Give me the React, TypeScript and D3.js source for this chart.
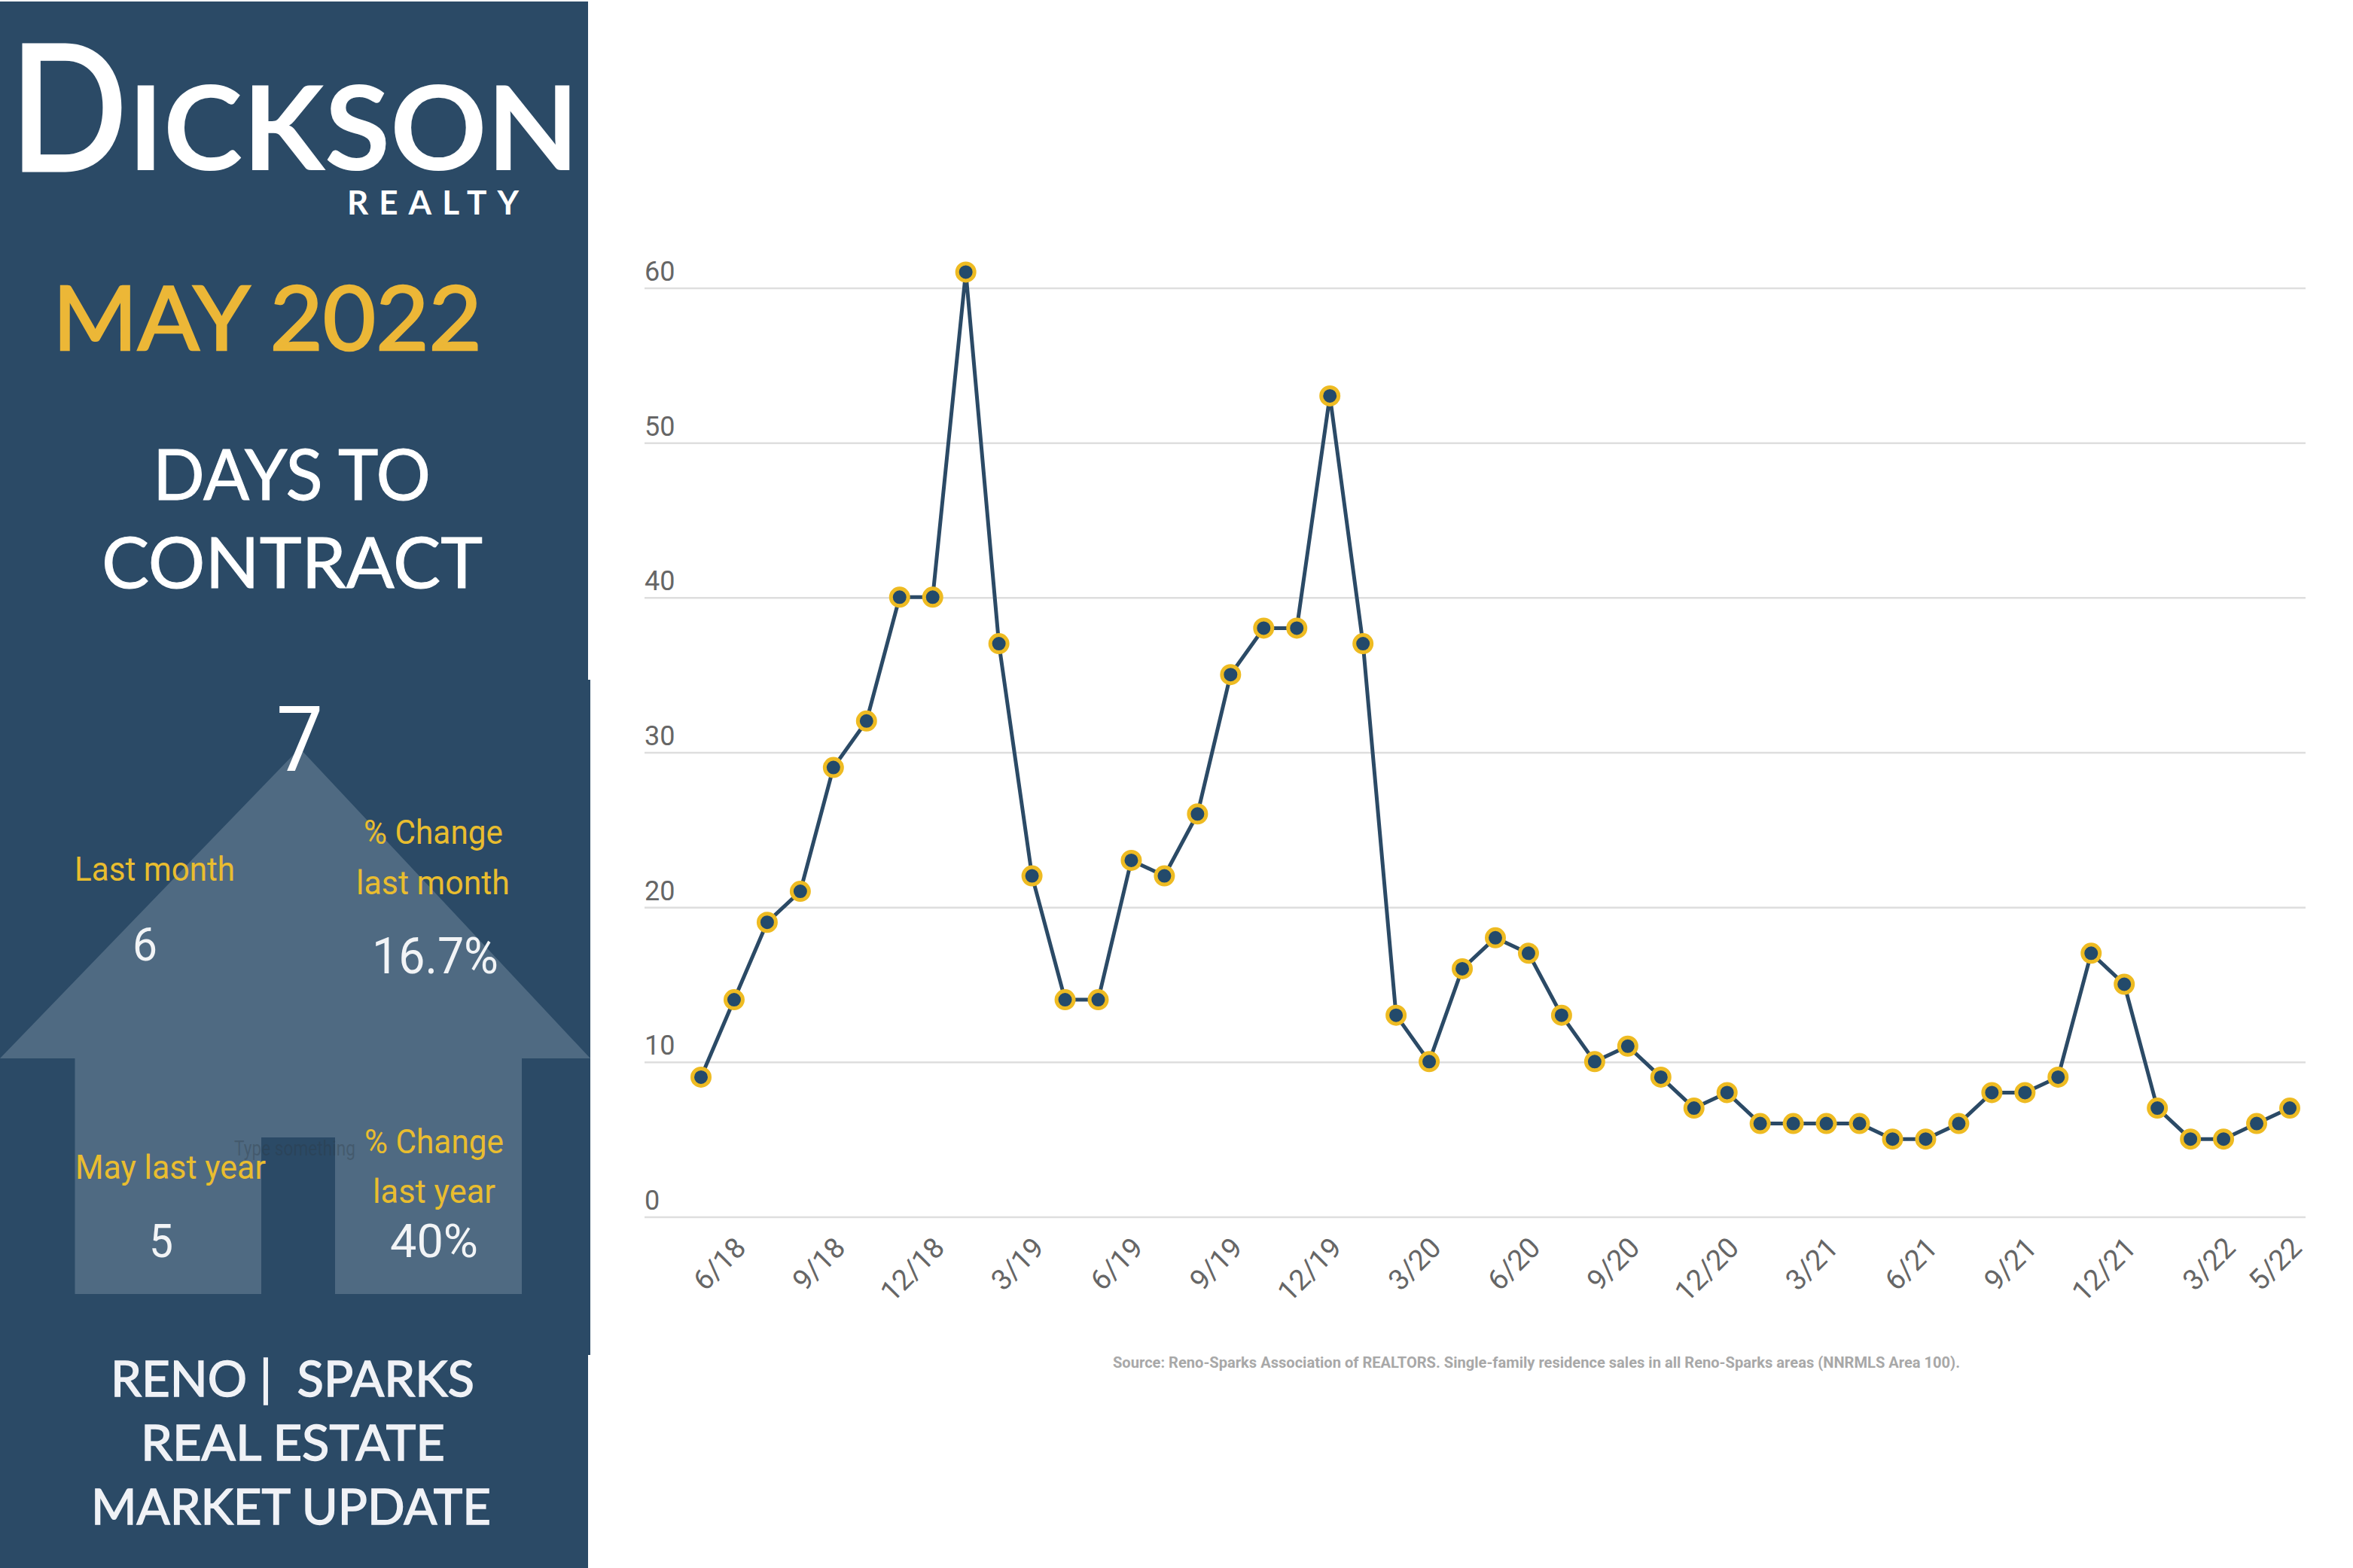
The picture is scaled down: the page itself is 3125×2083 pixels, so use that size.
import React from "react";
import * as d3 from "d3";

const months = ["5/18","6/18","7/18","8/18","9/18","10/18","11/18","12/18","1/19","2/19","3/19","4/19","5/19","6/19","7/19","8/19","9/19","10/19","11/19","12/19","1/20","2/20","3/20","4/20","5/20","6/20","7/20","8/20","9/20","10/20","11/20","12/20","1/21","2/21","3/21","4/21","5/21","6/21","7/21","8/21","9/21","10/21","11/21","12/21","1/22","2/22","3/22","4/22","5/22"];
const daysToContract = [9,14,19,21,29,32,40,40,61,37,22,14,14,23,22,26,35,38,38,53,37,13,10,16,18,17,13,10,11,9,7,8,6,6,6,6,5,5,6,8,8,9,17,15,7,5,5,6,7];
const xTickLabels = ["6/18","9/18","12/18","3/19","6/19","9/19","12/19","3/20","6/20","9/20","12/20","3/21","6/21","9/21","12/21","3/22","5/22"];
const yTicks = [0,10,20,30,40,50,60];

const NAVY = "#2b4a66";
const GOLD = "#ecb737";
const LABEL_GOLD = "#e9bd2f";
const SANS = "Roboto, sans-serif";
const GEO = "Lato, sans-serif";

export default function App() {
  const x = d3.scalePoint<string>().domain(months).range([931, 3041]);
  const y = d3.scaleLinear().domain([0, 60]).range([1617, 383]);
  const line = d3.line<number>().x((_, i) => x(months[i]) as number).y((d) => y(d) - 1);
  const lbl = (t: string, xs: number, w: number, b: number, fill: string, fs: number) => (
    <text x={xs} y={b} fill={fill} fontSize={fs} fontFamily={SANS} textLength={w} lengthAdjust="spacingAndGlyphs">{t}</text>
  );
  const geo = (t: string, xs: number, w: number, b: number, fill: string, fs: number, weight = 400, sw = 0) => (
    <text x={xs} y={b} fill={fill} stroke={fill} strokeWidth={sw} fontSize={fs} fontFamily={GEO} fontWeight={weight} textLength={w} lengthAdjust="spacingAndGlyphs" style={{ whiteSpace: "pre" }}>{t}</text>
  );
  return (
    <svg width={3125} height={2083} viewBox="0 0 3125 2083" style={{ position: "absolute", left: 0, top: 0, background: "#fff" }}>
      <rect x={0} y={2} width={781} height={2081} fill={NAVY} />
      <rect x={781} y={903} width={3} height={897} fill={NAVY} />
      <path d="M398 994 L784 1406 L693 1406 L693 1719 L445 1719 L445 1511 L347 1511 L347 1719 L99.5 1719 L99.5 1406 L0 1406 Z" fill="#4f6a82" />

      {geo("D", 13, 156, 226, "#fff", 232, 400, 5)}
      {geo("ICKSON", 170, 599, 226, "#fff", 155, 700, 0)}
      <text x={461} y={285} fill="#fff" fontSize={44} fontFamily={GEO} fontWeight={700} letterSpacing={14}>REALTY</text>
      {geo("MAY 2022", 70, 570, 465, GOLD, 119, 400, 2.5)}
      {geo("DAYS TO", 203, 369, 664, "#fff", 93, 400, 1)}
      {geo("CONTRACT", 135, 506, 781, "#fff", 93, 400, 1)}

      <text x={398} y={1024} textAnchor="middle" fill="#fff" fontSize={120} fontFamily={SANS} textLength={62} lengthAdjust="spacingAndGlyphs">7</text>
      {lbl("Last month", 99, 213, 1170, LABEL_GOLD, 44)}
      {lbl("% Change", 483, 185, 1121, LABEL_GOLD, 44)}
      {lbl("last month", 473, 204, 1188, LABEL_GOLD, 44)}
      {lbl("6", 176, 33, 1276, "#f2f4f6", 62)}
      {lbl("16.7%", 494, 168, 1293, "#f2f4f6", 66)}
      {lbl("May last year", 100, 253, 1566, LABEL_GOLD, 44)}
      {lbl("% Change", 484, 185, 1532, LABEL_GOLD, 44)}
      {lbl("last year", 495, 163, 1598, LABEL_GOLD, 44)}
      {lbl("5", 198, 32, 1670, "#f2f4f6", 62)}
      {lbl("40%", 518, 117, 1670, "#f2f4f6", 62)}
      {lbl("Type something", 311, 161, 1535, "rgba(45,55,65,0.32)", 28)}

      {geo("RENO |  SPARKS", 147, 483, 1855, "#f0f2f6", 66, 400, 1.5)}
      {geo("REAL ESTATE", 187, 404, 1940, "#f0f2f6", 66, 400, 1.5)}
      {geo("MARKET UPDATE", 121, 531, 2025, "#f0f2f6", 66, 400, 1.5)}

      {yTicks.map((t) => (
        <g key={t}>
          <line x1={856} x2={3062} y1={y(t)} y2={y(t)} stroke="#dedede" strokeWidth={2.5} />
          <text x={856} y={y(t) - 10} fill="#666" fontSize={36} fontFamily={SANS}>{t}</text>
        </g>
      ))}
      {xTickLabels.map((t) => {
        const px = (x(t) as number) + 18;
        return (
          <text key={t} transform={`translate(${px},1660) rotate(-45)`} textAnchor="end" fill="#666" fontSize={38} fontFamily={SANS}>{t}</text>
        );
      })}
      <path d={line(daysToContract) as string} fill="none" stroke={NAVY} strokeWidth={5} />
      {daysToContract.map((d, i) => (
        <circle key={i} cx={x(months[i])} cy={y(d) - 1} r={11.5} fill="#234a6b" stroke="#eebb22" strokeWidth={5} />
      ))}
      <text x={1478} y={1817} fill="#a8a8a8" fontSize={21} fontWeight={700} fontFamily={SANS} textLength={1125} lengthAdjust="spacingAndGlyphs">Source: Reno-Sparks Association of REALTORS. Single-family residence sales in all Reno-Sparks areas (NNRMLS Area 100).</text>
    </svg>
  );
}
